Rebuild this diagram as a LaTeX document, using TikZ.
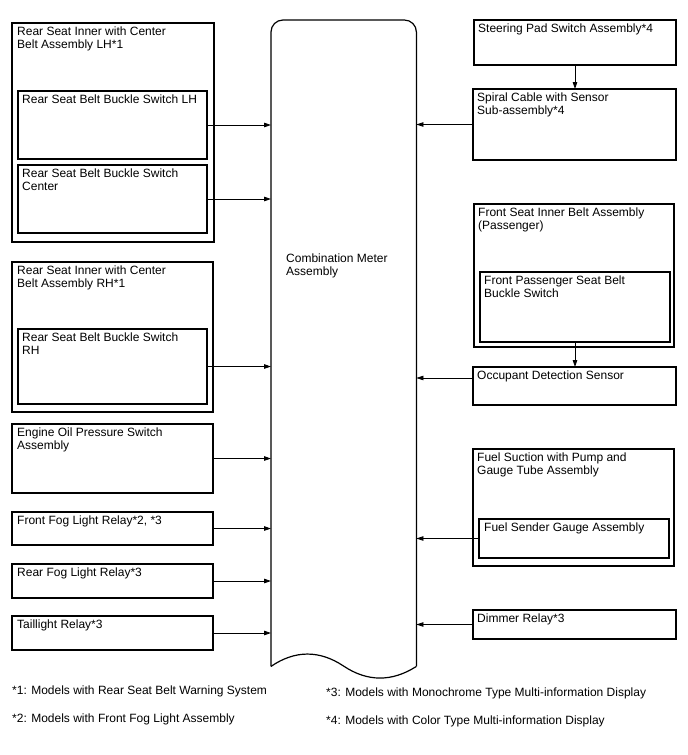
\documentclass[tikz,border=0pt]{standalone}
\usepackage{fontspec}
\setmainfont{Liberation Sans}
\usetikzlibrary{arrows.meta}

\begin{document}
\begin{tikzpicture}[
    x=1pt, y=-1pt,
    blk/.style={draw, line width=1.1pt, anchor=north west, inner sep=0pt, outer sep=0pt},
    txt/.style={anchor=north west, align=left, inner sep=0pt, font=\fontsize{12}{13}\selectfont},
    arr/.style={-{Triangle[length=7pt,width=4.5pt]}, line width=0.8pt}
  ]
    \useasboundingbox (0,0) rectangle (688,755);

    % combination meter
    \node[anchor=north west, inner sep=0pt, minimum width=145pt, minimum height=646pt] (meter) at (271,20) {};
    \draw[line width=1.2pt, rounded corners=12pt] (meter.south west) -- (meter.north west) -- (meter.north east) -- (meter.south east);
    \draw[line width=1.2pt] (meter.south west) .. controls (295,650) and (319.5,650) .. (343.5,666)
      .. controls (367.5,682) and (392,682) .. (meter.south east);
    \node[txt] (meterlbl) at (286,254) {Combination Meter\\Assembly};

    % left side
    \node[blk, minimum width=202pt, minimum height=219pt] (lhasm) at (12,23) {};
    \node[txt] at ([shift={(5pt,-4pt)}]lhasm.north west) {Rear Seat Inner with Center\\Belt Assembly LH*1};
    \node[blk, minimum width=189pt, minimum height=68pt] (lhsw) at (18,91) {};
    \node[txt] at ([shift={(4pt,-4pt)}]lhsw.north west) {Rear Seat Belt Buckle Switch LH};
    \node[blk, minimum width=189pt, minimum height=68pt] (ctrsw) at (18,165) {};
    \node[txt] at ([shift={(4pt,-4pt)}]ctrsw.north west) {Rear Seat Belt Buckle Switch\\Center};

    \node[blk, minimum width=201pt, minimum height=150pt] (rhasm) at (12,262) {};
    \node[txt] at ([shift={(5pt,-4pt)}]rhasm.north west) {Rear Seat Inner with Center\\Belt Assembly RH*1};
    \node[blk, minimum width=189pt, minimum height=75pt] (rhsw) at (18,329) {};
    \node[txt] at ([shift={(4pt,-4pt)}]rhsw.north west) {Rear Seat Belt Buckle Switch\\RH};

    \node[blk, minimum width=201pt, minimum height=69pt] (oil) at (12,424) {};
    \node[txt] at ([shift={(5pt,-4pt)}]oil.north west) {Engine Oil Pressure Switch\\Assembly};
    \node[blk, minimum width=201pt, minimum height=33pt] (ffog) at (12,512) {};
    \node[txt] at ([shift={(5pt,-4pt)}]ffog.north west) {Front Fog Light Relay*2, *3};
    \node[blk, minimum width=201pt, minimum height=34pt] (rfog) at (12,564) {};
    \node[txt] at ([shift={(5pt,-4pt)}]rfog.north west) {Rear Fog Light Relay*3};
    \node[blk, minimum width=201pt, minimum height=34pt] (tail) at (12,616) {};
    \node[txt] at ([shift={(5pt,-4pt)}]tail.north west) {Taillight Relay*3};

    % right side
    \node[blk, minimum width=202pt, minimum height=45pt] (steer) at (474,20) {};
    \node[txt] at ([shift={(4pt,-4pt)}]steer.north west) {Steering Pad Switch Assembly*4};
    \node[blk, minimum width=203pt, minimum height=71pt] (spiral) at (473,89) {};
    \node[txt] at ([shift={(4pt,-4pt)}]spiral.north west) {Spiral Cable with Sensor\\Sub-assembly*4};

    \node[blk, minimum width=200pt, minimum height=143pt] (frasm) at (474,204) {};
    \node[txt] at ([shift={(4pt,-4pt)}]frasm.north west) {Front Seat Inner Belt Assembly\\(Passenger)};
    \node[blk, minimum width=190pt, minimum height=70pt] (passsw) at (480,272) {};
    \node[txt] at ([shift={(4pt,-4pt)}]passsw.north west) {Front Passenger Seat Belt\\Buckle Switch};
    \node[blk, minimum width=203pt, minimum height=38pt] (occ) at (473,367) {};
    \node[txt] at ([shift={(4pt,-4pt)}]occ.north west) {Occupant Detection Sensor};

    \node[blk, minimum width=201pt, minimum height=117pt] (fuel) at (473,449) {};
    \node[txt] at ([shift={(4pt,-4pt)}]fuel.north west) {Fuel Suction with Pump and\\Gauge Tube Assembly};
    \node[blk, minimum width=190pt, minimum height=39pt] (sender) at (479,519) {};
    \node[txt] at ([shift={(5pt,-4pt)}]sender.north west) {Fuel Sender Gauge Assembly};
    \node[blk, minimum width=203pt, minimum height=29pt] (dimmer) at (473,610) {};
    \node[txt] at ([shift={(4pt,-4pt)}]dimmer.north west) {Dimmer Relay*3};

    % connections
    \foreach \src in {lhsw, ctrsw, rhsw, oil, ffog, rfog, tail}
      \draw[arr] (\src.east) -- (\src.east -| meter.west);
    \foreach \src in {spiral, sender, dimmer}
      \draw[arr] (\src.west) -- (\src.west -| meter.east);
    \draw[arr] ([yshift=8pt]occ.west) -- ([yshift=8pt]occ.west -| meter.east);
    \draw[arr] (steer.south) -- (steer.south |- spiral.north);
    \draw[arr] (passsw.south) -- (passsw.south |- occ.north);

    % notes
    \node[txt] (fn1) at (12,686) {*1: Models with Rear Seat Belt Warning System};
    \node[txt] (fn2) at (12,714) {*2: Models with Front Fog Light Assembly};
    \node[txt] (fn3) at (326,688) {*3: Models with Monochrome Type Multi-information Display};
    \node[txt] (fn4) at (326,716) {*4: Models with Color Type Multi-information Display};
  \end{tikzpicture}
\end{document}
